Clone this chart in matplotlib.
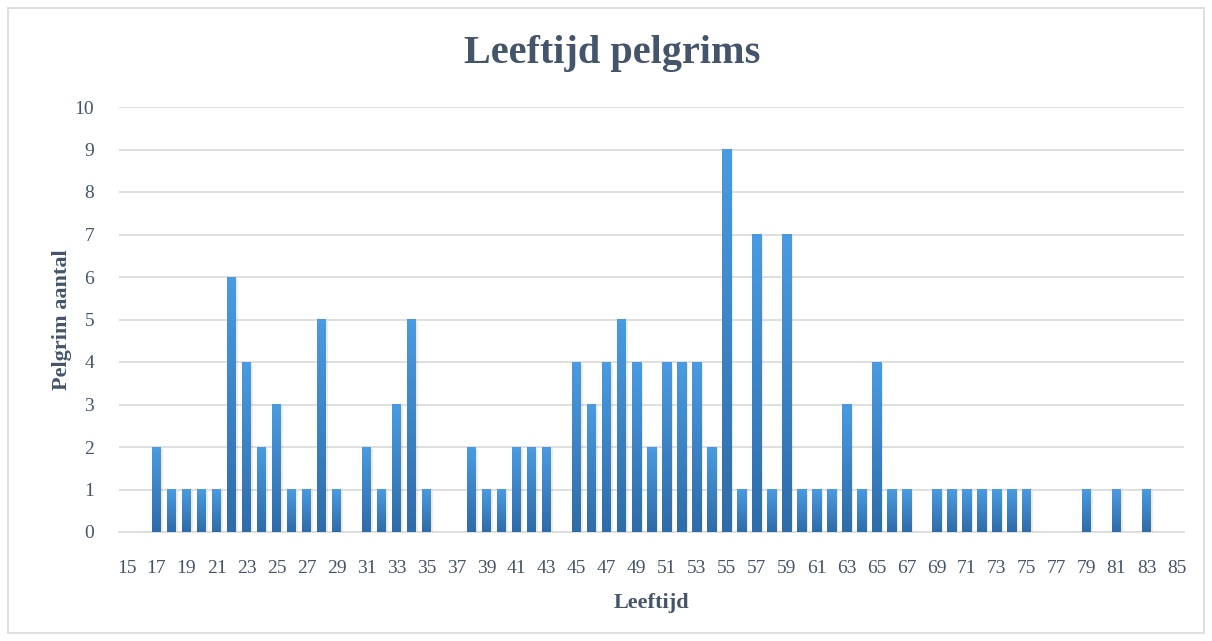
import numpy as np
import matplotlib
matplotlib.use("Agg")
import matplotlib.pyplot as plt
from matplotlib.patches import Rectangle
from matplotlib.colors import LinearSegmentedColormap

ages = list(range(15, 86))
counts = [0, 0, 2, 1, 1, 1, 1, 6, 4, 2, 3, 1, 1, 5, 1, 0, 2, 1, 3, 5, 1,
          0, 0, 2, 1, 1, 2, 2, 2, 0, 4, 3, 4, 5, 4, 2, 4, 4, 4, 2, 9,
          1, 7, 1, 7, 1, 1, 1, 3, 1, 4, 1, 1, 0, 1, 1, 1, 1, 1, 1, 1,
          0, 0, 0, 1, 0, 1, 0, 1, 0, 0]
tick_labels = [str(a) for a in ages[::2]]
yticks = list(range(0, 11))

title = "Leeftijd pelgrims"
xlabel = "Leeftijd"
ylabel = "Pelgrim aantal"

txt = "#44546A"
grid = "#D9D9D9"
plt.rcParams['font.family'] = ['Liberation Serif', 'DejaVu Serif']

fig = plt.figure(figsize=(12.12, 6.41), dpi=100)
fig.patches.append(Rectangle((8/1212, 8/641), 1196/1212, 625/641, transform=fig.transFigure,
                             fill=False, edgecolor="#D9D9D9", linewidth=1.2))
ax = fig.add_axes([119/1212, (641-532)/641, (1184-119)/1212, (532-107)/641])

x = np.arange(len(ages))
bars = ax.bar(x, counts, width=0.6, color="none", edgecolor="none", zorder=3)

cmap = LinearSegmentedColormap.from_list("g", ["#2F6BA8", "#4A9BE2"])
grad = np.linspace(0, 1, 256).reshape(-1, 1)
for b in bars:
    h = b.get_height()
    if h <= 0:
        continue
    x0 = b.get_x()
    w = b.get_width()
    ax.add_patch(Rectangle((x0 + 0.08, 0), w + 0.05, h - 0.04, facecolor="#000000",
                           alpha=0.08, edgecolor="none", zorder=2))
    ax.imshow(grad, extent=(x0, x0 + w, 0, h), origin="lower", cmap=cmap,
              aspect="auto", zorder=3, interpolation="bilinear")

ax.set_xlim(-0.5, len(ages) - 0.5)
ax.set_ylim(0, 10)
ax.set_yticks(yticks)
ax.set_xticks(x[::2])
ax.set_xticklabels(tick_labels)
ax.yaxis.grid(True, color=grid, linewidth=1.2, zorder=0)
ax.set_axisbelow(True)
for s in ["top", "right", "left"]:
    ax.spines[s].set_visible(False)
ax.spines["bottom"].set_color(grid)
ax.spines["bottom"].set_linewidth(1.2)
ax.tick_params(axis="both", length=0, colors=txt, labelsize=14)
ax.tick_params(axis="x", pad=20)
ax.tick_params(axis="y", pad=18)

fig.text(0.505, 1 - 54/641, title, fontsize=29, fontweight="bold", color=txt,
         ha="center", va="center")
ax.set_xlabel(xlabel, fontsize=16, fontweight="bold", color=txt, labelpad=12)
ax.set_ylabel(ylabel, fontsize=16, fontweight="bold", color=txt, labelpad=2)

fig.savefig("out.png", dpi=100)
